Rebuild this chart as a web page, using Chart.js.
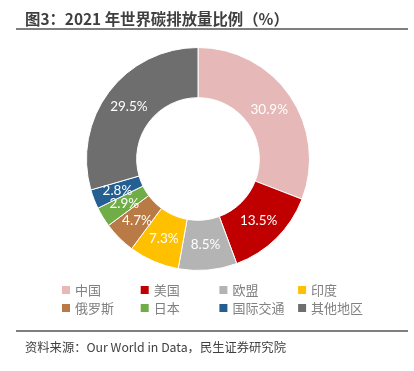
<!DOCTYPE html>
<html>
<head>
<meta charset="utf-8">
<script src="https://cdn.jsdelivr.net/npm/chart.js@4"></script>
<style>
  html,body{margin:0;padding:0;background:#fff;}
  #wrap{position:relative;width:414px;height:371px;overflow:hidden;}
  #c{position:absolute;left:0;top:0;}
  .title{position:absolute;left:25px;top:7px;font:bold 15.4px "Noto Sans CJK SC",sans-serif;color:#3f3f3f;white-space:nowrap;}
  .line{position:absolute;left:16px;width:392px;height:2px;background:#7f7f7f;}
  .src{position:absolute;left:25px;top:338px;font:12.3px "Noto Sans CJK SC",sans-serif;color:#404040;white-space:nowrap;}
</style>
</head>
<body>
<div id="wrap">
  <canvas id="c" width="414" height="371"></canvas>
  <div class="title">图3：2021 年世界碳排放量比例（%）</div>
  <div class="line" style="top:28px"></div>
  <div class="line" style="top:330px"></div>
  <div class="src">资料来源：Our World in Data，民生证券研究院</div>
</div>
<script>
const categories = ['中国','美国','欧盟','印度','俄罗斯','日本','国际交通','其他地区'];
const shares = [30.9, 13.5, 8.5, 7.3, 4.7, 2.9, 2.8, 29.5];
const colors = ['#E6B9B8','#C00000','#B4B4B4','#FFC000','#BA7A45','#70AD47','#255E91','#6E6E6E'];

const sliceLabels = {
  id: 'sliceLabels',
  afterDatasetsDraw(chart) {
    const ctx = chart.ctx;
    const meta = chart.getDatasetMeta(0);
    ctx.save();
    ctx.font = '13.5px Lato, "Noto Sans", sans-serif';
    ctx.fillStyle = '#ffffff';
    ctx.textAlign = 'center';
    ctx.textBaseline = 'middle';
    meta.data.forEach((arc, i) => {
      const p = arc.getProps(['x','y','startAngle','endAngle','innerRadius','outerRadius'], true);
      const a = (p.startAngle + p.endAngle) / 2;
      const r = (p.innerRadius + p.outerRadius) / 2;
      ctx.fillText(shares[i].toFixed(1) + '%', p.x + Math.cos(a) * r, p.y + Math.sin(a) * r);
    });
    ctx.restore();
  }
};

const gridLegend = {
  id: 'gridLegend',
  afterDraw(chart) {
    const ctx = chart.ctx;
    const ds = chart.data.datasets[0];
    ctx.save();
    ctx.font = '13px "Noto Sans CJK SC", sans-serif';
    ctx.textBaseline = 'middle';
    ctx.textAlign = 'left';
    chart.data.labels.forEach((lab, i) => {
      const col = i % 4, row = Math.floor(i / 4);
      const x = 62 + col * 78.7;
      const y = 290 + row * 18;
      ctx.fillStyle = ds.backgroundColor[i];
      ctx.fillRect(x, y - 4, 8, 8);
      ctx.fillStyle = '#808080';
      ctx.fillText(lab, x + 13, y);
    });
    ctx.restore();
  }
};

new Chart(document.getElementById('c'), {
  type: 'doughnut',
  data: {
    labels: categories,
    datasets: [{
      data: shares,
      backgroundColor: colors,
      borderColor: '#ffffff',
      borderWidth: 1
    }]
  },
  options: {
    responsive: false,
    animation: false,
    cutout: '55%',
    layout: { padding: { top: 47, bottom: 100, left: 86, right: 104 } },
    plugins: {
      legend: { display: false },
      tooltip: { enabled: false }
    }
  },
  plugins: [sliceLabels, gridLegend]
});
</script>
</body>
</html>
